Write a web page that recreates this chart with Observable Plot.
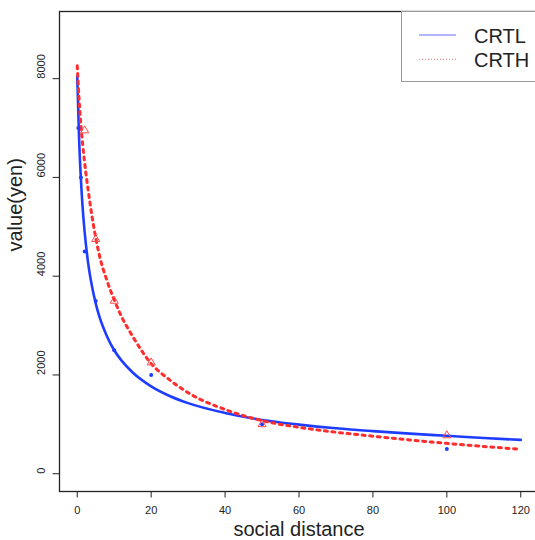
<!DOCTYPE html>
<html><head><meta charset="utf-8">
<script src="https://cdn.jsdelivr.net/npm/d3@7"></script>
<script src="https://cdn.jsdelivr.net/npm/@observablehq/plot@0.6"></script>
<style>
html,body{margin:0;padding:0;background:#fff;overflow:hidden;}
#wrap{position:relative;width:535px;height:540px;overflow:hidden;}
#legend{position:absolute;left:401px;top:11px;}
</style></head><body><div id="wrap"><div id="chart"></div><svg id="legend" width="140" height="72"></svg></div>
<script>
const xTicks = [0, 20, 40, 60, 80, 100, 120];
const yTicks = [0, 2000, 4000, 6000, 8000];
const seriesNames = ["CRTL", "CRTH"];
const seriesColors = ["#1f3dff", "#ff2d2d"];

// observed points
const crtlDistance = [0.3, 1, 2, 5, 10, 20, 50, 100];
const crtlValue = [7000, 6000, 4500, 3500, 2500, 2000, 1000, 500];
const crthDistance = [2, 5, 10, 20, 50, 100];
const crthValue = [6950, 4750, 3500, 2250, 1000, 775];

// fitted curves
const curveDistance = [0, 0.5, 1, 1.5, 2, 3, 4, 5, 6, 8, 10, 12, 15, 20, 25, 30, 40, 50, 60, 70, 80, 90, 100, 110, 120];
const crtlCurve = [8050, 6780, 5950, 5350, 4900, 4240, 3790, 3450, 3180, 2790, 2500, 2290, 2050, 1770, 1575, 1430, 1230, 1088, 995, 920, 862, 812, 768, 724, 685];
const crthCurve = [8260, 7580, 7050, 6650, 6300, 5720, 5210, 4780, 4420, 3920, 3520, 3180, 2780, 2230, 1900, 1640, 1300, 1075, 940, 840, 760, 683, 615, 552, 495];

const font = '"Liberation Sans", Arial, Helvetica, sans-serif';

const crtlLine = curveDistance.map((d, i) => ({d, v: crtlCurve[i]}));
const crthLine = curveDistance.map((d, i) => ({d, v: crthCurve[i]}));
const crtlPts = crtlDistance.map((d, i) => ({d, v: crtlValue[i]}));
const crthPts = crthDistance.map((d, i) => ({d, v: crthValue[i]}));

const chart = Plot.plot({
  width: 538,
  height: 540,
  marginLeft: 59,
  marginRight: 0,
  marginTop: 11,
  marginBottom: 49,
  style: {fontFamily: font, fontSize: "11px", color: "#222", maxWidth: "none", background: "#fff"},
  x: {domain: [-4.8, 124.8]},
  y: {domain: [-360, 9360]},
  marks: [
    Plot.axisX({ticks: xTicks, tickSize: 6.5, tickPadding: 8, fontSize: 11, label: null, tickFormat: d => String(d)}),
    Plot.axisY({ticks: yTicks, tickSize: 6.4, tickFormat: () => "", label: null}),
    Plot.text(yTicks, {y: d => d, text: d => String(d), frameAnchor: "left", rotate: -90, dx: -18.3, fontSize: 11, fill: "#222"}),
    Plot.text(["social distance"], {text: d => d, frameAnchor: "bottom", dy: 44.5, lineAnchor: "bottom", fontSize: 20, fill: "#222"}),
    Plot.text(["value(yen)"], {text: d => d, frameAnchor: "left", rotate: -90, dx: -38, lineAnchor: "bottom", fontSize: 20, fill: "#222"}),
    Plot.line(crtlLine, {x: "d", y: "v", stroke: seriesColors[0], strokeWidth: 2.6, curve: "monotone-x"}),
    Plot.line(crthLine, {x: "d", y: "v", stroke: seriesColors[1], strokeWidth: 3, strokeDasharray: "3,4.6", curve: "monotone-x"}),
    Plot.dot(crtlPts, {x: "d", y: "v", r: 2, fill: seriesColors[0]}),
    Plot.dot(crthPts, {x: "d", y: "v", symbol: "triangle", r: 3, stroke: "#ff4a4a", fill: "none", strokeWidth: 1}),
    Plot.frame({stroke: "#222", strokeWidth: 1.3})
  ]
});
document.getElementById("chart").appendChild(chart);

// legend box (top-right, overlapping the frame like the original)
const lg = d3.select("#legend");
lg.append("rect").attr("x", 0.5).attr("y", 0.5).attr("width", 200).attr("height", 70)
  .attr("fill", "#fff").attr("stroke", "#9a9a9a").attr("stroke-width", 1);
const rows = [{y: 24, dash: null}, {y: 48.3, dash: "1,2"}];
rows.forEach((r, i) => {
  lg.append("line").attr("x1", 18).attr("x2", 55).attr("y1", r.y).attr("y2", r.y)
    .attr("stroke", i === 0 ? "#6a6aff" : "#ff7070").attr("stroke-width", 1)
    .attr("stroke-dasharray", r.dash);
  lg.append("text").attr("x", 73).attr("y", r.y + 7.5).attr("font-family", font)
    .attr("font-size", 20).attr("fill", "#222").text(seriesNames[i]);
});
</script></body></html>
